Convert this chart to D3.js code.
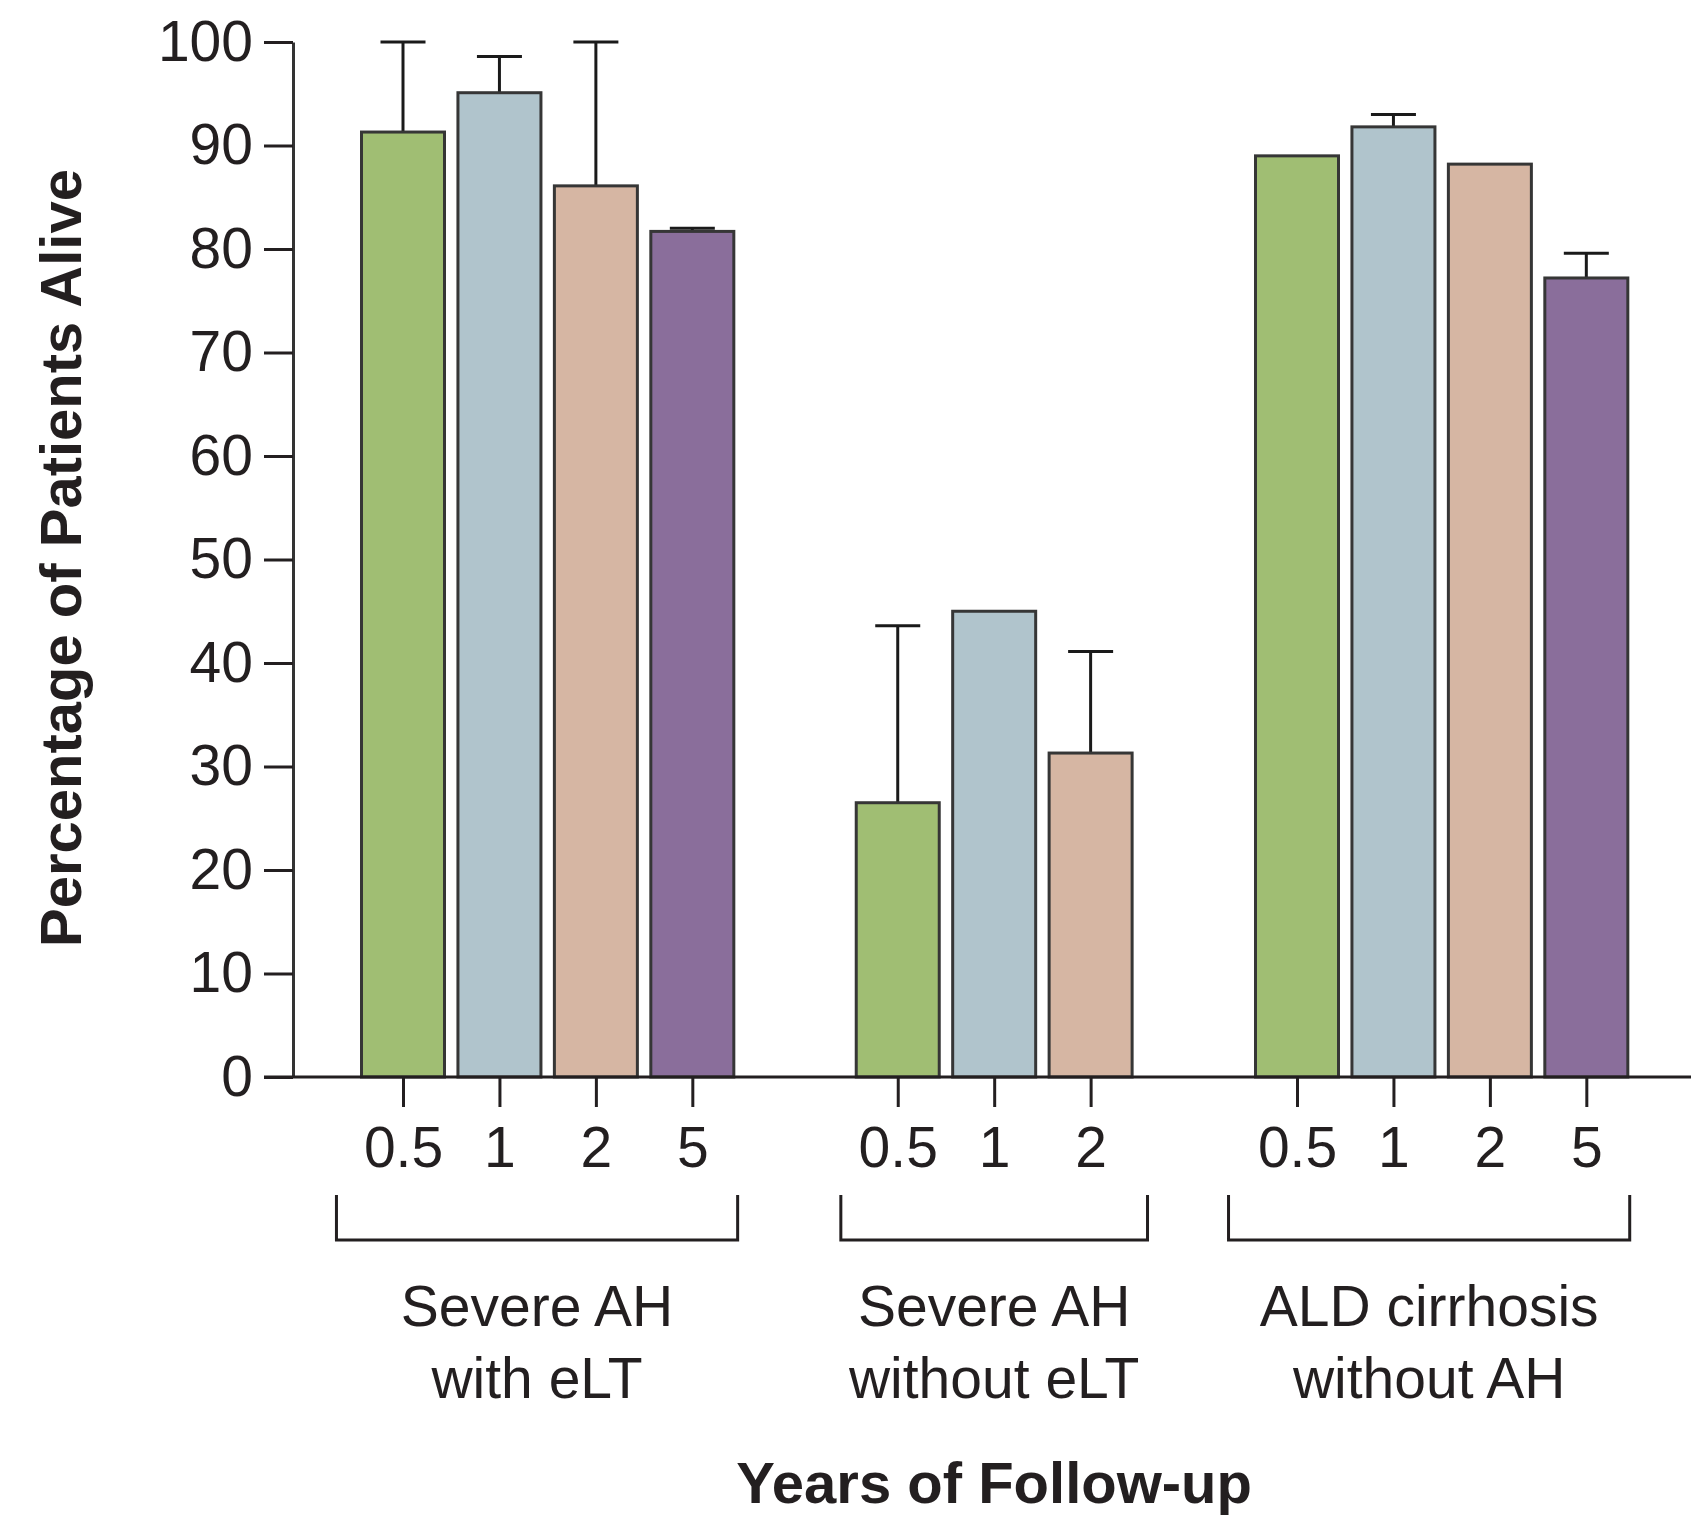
<!DOCTYPE html>
<html>
<head>
<meta charset="utf-8">
<script src="https://cdn.jsdelivr.net/npm/d3@7"></script>
<style>
  html, body { margin: 0; padding: 0; background: #ffffff; }
  svg { display: block; }
  text { font-family: "Liberation Sans", Arial, sans-serif; fill: #231f20; }
</style>
</head>
<body>
<svg id="chart" width="1691" height="1527"></svg>
<script>
// ---- data ----
const groupLabels = [["Severe AH", "with eLT"], ["Severe AH", "without eLT"], ["ALD cirrhosis", "without AH"]];
const yearLabels = [["0.5", "1", "2", "5"], ["0.5", "1", "2"], ["0.5", "1", "2", "5"]];
const survival = [[91.3, 95.1, 86.1, 81.7], [26.5, 45.0, 31.3], [89.0, 91.8, 88.2, 77.2]];
const upperCI = [[100, 98.6, 100, 82.0], [43.6, 45.0, 41.1], [89.0, 93.0, 88.2, 79.6]];
const yTicks = [0, 10, 20, 30, 40, 50, 60, 70, 80, 90, 100];
const yearColors = { "0.5": "#a0be73", "1": "#b0c4cc", "2": "#d6b6a3", "5": "#8a6e9b" };

// ---- layout ----
const groupOffset = [0, 5.13, 9.27];          // slot offset of each group's first bar
const bracketPad = [[0.69, 0.47], [0.59, 0.59], [0.71, 0.45]];
const svg = d3.select("#chart");
const y = d3.scaleLinear().domain([0, 100]).range([1077, 42]);
const xs = d3.scaleLinear().domain([0, 9.27]).range([403, 1297]);
const barW = 83;
const capW = 45;
const axisX = 293;
const ink = "#231f20";

const bars = [];
yearLabels.forEach((yrs, g) => yrs.forEach((yr, i) => {
  bars.push({ g, yr, slot: groupOffset[g] + i, v: survival[g][i], hi: upperCI[g][i] });
}));

// error bars (behind bars)
const err = svg.append("g");
bars.forEach(b => {
  if (b.hi > b.v) {
    err.append("line").attr("x1", xs(b.slot)).attr("x2", xs(b.slot))
      .attr("y1", y(b.v)).attr("y2", y(b.hi))
      .attr("stroke", "#1a1a1a").attr("stroke-width", 3);
    err.append("line").attr("x1", xs(b.slot) - capW / 2).attr("x2", xs(b.slot) + capW / 2)
      .attr("y1", y(b.hi)).attr("y2", y(b.hi))
      .attr("stroke", "#1a1a1a").attr("stroke-width", 3);
  }
});

// bars
svg.append("g").selectAll("rect").data(bars).join("rect")
  .attr("x", d => xs(d.slot) - barW / 2)
  .attr("width", barW)
  .attr("y", d => y(d.v))
  .attr("height", d => y(0) - y(d.v))
  .attr("fill", d => yearColors[d.yr])
  .attr("stroke", "#363636")
  .attr("stroke-width", 3);

// y axis
const yAxis = svg.append("g").attr("transform", `translate(${axisX},0)`)
  .call(d3.axisLeft(y).tickValues(yTicks).tickSize(29).tickSizeOuter(0).tickPadding(11));
yAxis.select(".domain").attr("stroke", "#333").attr("stroke-width", 3);
yAxis.selectAll(".tick line").attr("stroke", ink).attr("stroke-width", 3);
yAxis.selectAll(".tick text").attr("font-size", 57).attr("font-family", "Liberation Sans, Arial, sans-serif").attr("fill", ink);

// x axis baseline
svg.append("line").attr("x1", axisX - 29).attr("x2", 1691).attr("y1", y(0)).attr("y2", y(0))
  .attr("stroke", ink).attr("stroke-width", 3);

// x ticks and labels
const slotLabel = new Map(bars.map(b => [b.slot, b.yr]));
const xAxis = svg.append("g").attr("transform", `translate(0,${y(0)})`)
  .call(d3.axisBottom(xs).tickValues(bars.map(b => b.slot)).tickFormat(s => slotLabel.get(s))
    .tickSize(30).tickPadding(20));
xAxis.select(".domain").remove();
xAxis.selectAll(".tick line").attr("stroke", ink).attr("stroke-width", 3);
xAxis.selectAll(".tick text").attr("font-size", 57).attr("font-family", "Liberation Sans, Arial, sans-serif").attr("fill", ink);

// group brackets and labels
groupLabels.forEach((lines, g) => {
  const first = groupOffset[g], last = groupOffset[g] + yearLabels[g].length - 1;
  const x0 = xs(first - bracketPad[g][0]), x1 = xs(last + bracketPad[g][1]);
  svg.append("path")
    .attr("d", `M${x0},1195 V1240 H${x1} V1195`)
    .attr("fill", "none").attr("stroke", ink).attr("stroke-width", 3);
  const t = svg.append("text").attr("text-anchor", "middle").attr("font-size", 57);
  lines.forEach((ln, k) => {
    t.append("tspan").attr("x", (x0 + x1) / 2).attr("y", 1326 + k * 72).text(ln);
  });
});

// axis titles
svg.append("text").attr("text-anchor", "middle").attr("font-weight", "bold").attr("font-size", 58)
  .attr("transform", "translate(81,558) rotate(-90)").text("Percentage of Patients Alive");
svg.append("text").attr("text-anchor", "middle").attr("font-weight", "bold").attr("font-size", 58)
  .attr("x", xs(groupOffset[1] + 1)).attr("y", 1503).text("Years of Follow-up");
</script>
</body>
</html>
